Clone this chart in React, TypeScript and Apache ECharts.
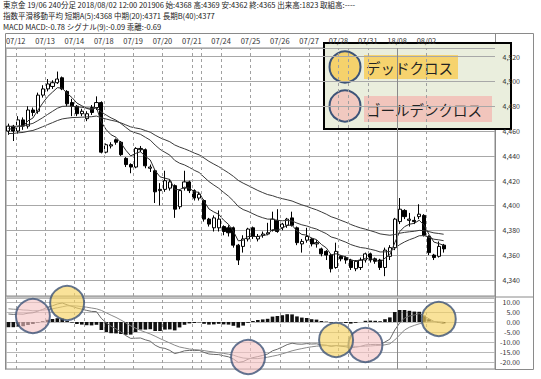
import React, { useEffect, useRef } from 'react';
import * as echarts from 'echarts';

const FONT = '"Noto Sans CJK JP", "Noto Sans", sans-serif';

const headerLines = [
  '東京金 19/06 240分足 2018/08/02 12:00 201906 始:4368 高:4369 安:4362 終:4365 出来高:1823 取組高:----',
  '指数平滑移動平均 短期A(5):4368 中期(20):4371 長期B(40):4377',
  'MACD MACD:-0.78 シグナル(9):-0.09 乖離:-0.69',
];

const SLOT_COUNT = 100;
const dayLabels = ['07/12', '07/13', '07/14', '07/18', '07/19', '07/20', '07/21', '07/24', '07/25', '07/26', '07/27', '07/28', '07/31', '18/08', '08/02'];
const dayStarts = [2, 8, 14, 20, 26, 32, 38, 44, 50, 56, 62, 68, 74, 80, 86];
const extraLines = [16, 40, 70];
const monthStart = 80;

const opens = [
  4460, 4464, 4460, 4469, 4464, 4477, 4476, 4489, 4494, 4496,
  4499, 4503, 4492, 4483, 4480, 4474, 4470, 4479, 4479, 4483,
  4443, 4448, 4453, 4451, 4438, 4433, 4431, 4445, 4445, 4430,
  4428, 4412, 4413, 4414, 4416, 4399, 4414, 4419, 4412, 4406,
  4404, 4389, 4382, 4382, 4383, 4382, 4382, 4368, 4367, 4373,
  4382, 4373, 4376, 4377, 4380, 4388, 4382, 4384, 4390, 4382,
  4369, 4372, 4373, 4369, 4365, 4363, 4360, 4350, 4359, 4358,
  4356, 4349, 4350, 4356, 4361, 4357, 4356, 4350, 4359, 4366,
  4387, 4396, 4388, 4388, 4391, 4392, 4375, 4360, 4359, 4368,
];
const highs = [
  4466, 4465, 4472, 4471, 4480, 4479, 4491, 4497, 4502, 4501,
  4508, 4504, 4493, 4486, 4481, 4478, 4476, 4481, 4488, 4484,
  4450, 4451, 4454, 4452, 4439, 4434, 4447, 4448, 4446, 4433,
  4429, 4418, 4428, 4421, 4417, 4413, 4428, 4420, 4413, 4411,
  4405, 4390, 4392, 4396, 4384, 4384, 4383, 4369, 4376, 4382,
  4383, 4377, 4379, 4386, 4395, 4397, 4386, 4390, 4395, 4383,
  4373, 4382, 4374, 4372, 4366, 4364, 4361, 4370, 4360, 4359,
  4357, 4356, 4358, 4362, 4362, 4358, 4357, 4366, 4368, 4390,
  4406, 4397, 4394, 4391, 4401, 4393, 4376, 4361, 4371, 4369,
];
const lows = [
  4457, 4452, 4458, 4461, 4462, 4472, 4474, 4487, 4492, 4494,
  4498, 4493, 4480, 4472, 4472, 4472, 4468, 4473, 4477, 4442,
  4442, 4446, 4449, 4440, 4431, 4426, 4430, 4443, 4430, 4427,
  4402, 4400, 4411, 4412, 4390, 4397, 4412, 4410, 4404, 4404,
  4387, 4383, 4379, 4379, 4376, 4375, 4366, 4352, 4362, 4371,
  4373, 4371, 4374, 4376, 4379, 4378, 4380, 4382, 4383, 4368,
  4362, 4370, 4367, 4366, 4359, 4356, 4346, 4349, 4355, 4353,
  4348, 4347, 4348, 4354, 4354, 4353, 4348, 4343, 4356, 4364,
  4385, 4389, 4383, 4385, 4389, 4375, 4360, 4356, 4358, 4362,
];
const closes = [
  4464, 4460, 4469, 4464, 4477, 4475, 4489, 4494, 4498, 4499,
  4502, 4494, 4482, 4480, 4474, 4476, 4474, 4475, 4483, 4443,
  4449, 4449, 4451, 4441, 4433, 4431, 4446, 4446, 4432, 4431,
  4411, 4413, 4420, 4419, 4397, 4412, 4419, 4412, 4406, 4409,
  4389, 4385, 4390, 4389, 4379, 4378, 4368, 4356, 4373, 4381,
  4375, 4375, 4377, 4378, 4389, 4379, 4385, 4389, 4384, 4370,
  4371, 4375, 4369, 4370, 4361, 4360, 4349, 4363, 4357, 4356,
  4350, 4355, 4356, 4361, 4356, 4355, 4350, 4364, 4366, 4389,
  4397, 4391, 4389, 4387, 4393, 4376, 4362, 4358, 4367, 4365,
];

const emaShort = [
  4462, 4461.3, 4463.9, 4463.9, 4468.3, 4470.5, 4476.7, 4482.5, 4487.7, 4491.4,
  4495, 4494.6, 4490.4, 4487, 4482.6, 4480.4, 4478.3, 4477.2, 4479.1, 4467.1,
  4461.1, 4457, 4455, 4450.4, 4444.6, 4440, 4442, 4443.4, 4439.6, 4436.7,
  4428.1, 4423.1, 4422, 4421, 4413, 4412.7, 4414.8, 4413.9, 4411.2, 4410.5,
  4403.3, 4397.2, 4394.8, 4392.9, 4388.2, 4384.8, 4379.2, 4371.5, 4372, 4375,
  4375, 4375, 4375.7, 4376.5, 4380.6, 4380.1, 4381.7, 4384.1, 4384.1, 4379.4,
  4376.6, 4376.1, 4373.7, 4372.5, 4368.6, 4365.8, 4360.2, 4361.1, 4359.7, 4358.5,
  4355.7, 4355.5, 4355.7, 4357.4, 4356.9, 4356.3, 4354.2, 4357.5, 4360.3, 4369.9,
  4378.9, 4382.9, 4384.9, 4385.6, 4388.1, 4384.1, 4376.7, 4370.5, 4369.3, 4367.9,
];
const emaMid = [
  4464, 4463.6, 4464.1, 4464.1, 4465.3, 4466.2, 4468.4, 4470.8, 4473.4, 4475.9,
  4478.4, 4479.9, 4480.1, 4480.1, 4479.5, 4479.2, 4478.7, 4478.3, 4478.8, 4475.4,
  4472.9, 4470.6, 4468.8, 4466.1, 4463, 4460, 4458.6, 4457.4, 4455, 4452.7,
  4448.7, 4445.3, 4442.9, 4440.6, 4436.4, 4434.1, 4432.7, 4430.7, 4428.4, 4426.6,
  4422.9, 4419.3, 4416.5, 4413.9, 4410.6, 4407.5, 4403.7, 4399.2, 4396.7, 4395.2,
  4393.3, 4391.5, 4390.1, 4389, 4389, 4388, 4387.7, 4387.9, 4387.5, 4385.8,
  4384.4, 4383.5, 4382.1, 4381, 4379.1, 4377.3, 4374.6, 4373.5, 4371.9, 4370.4,
  4368.5, 4367.2, 4366.1, 4365.6, 4364.7, 4363.8, 4362.5, 4362.6, 4362.9, 4365.4,
  4368.4, 4370.6, 4372.4, 4373.8, 4375.6, 4375.7, 4374.4, 4372.8, 4372.3, 4371.6,
];
const emaLong = [
  4458, 4458.1, 4458.6, 4458.9, 4459.8, 4460.5, 4461.9, 4463.5, 4465.2, 4466.8,
  4468.5, 4469.8, 4470.4, 4470.9, 4471, 4471.2, 4471.4, 4471.6, 4472.1, 4470.7,
  4469.7, 4468.7, 4467.9, 4466.6, 4465, 4463.4, 4462.5, 4461.8, 4460.4, 4459.1,
  4456.7, 4454.6, 4453, 4451.4, 4448.8, 4447.1, 4445.7, 4444.1, 4442.3, 4440.8,
  4438.3, 4435.6, 4433.4, 4431.3, 4428.8, 4426.3, 4423.5, 4420.2, 4418, 4416.1,
  4414.1, 4412.1, 4410.4, 4408.8, 4407.9, 4406.5, 4405.5, 4404.6, 4403.6, 4402,
  4400.5, 4399.3, 4397.8, 4396.5, 4394.8, 4393, 4390.9, 4389.6, 4388, 4386.5,
  4384.7, 4383.2, 4381.9, 4380.9, 4379.7, 4378.5, 4377.1, 4376.5, 4376, 4376.6,
  4377.6, 4378.3, 4378.8, 4379.2, 4379.9, 4379.7, 4378.9, 4377.9, 4377.4, 4376.8,
];

const macd = [
  4.0, 3.8, 4.0, 3.9, 4.4, 4.6, 5.4, 6.3, 7.3, 8.1,
  9.0, 9.5, 8.6, 7.8, 7.0, 6.4, 5.8, 5.3, 5.2, 1.8,
  -0.4, -2.2, -3.4, -5.0, -6.8, -8.2, -8.1, -8.0, -8.9, -9.6,
  -11.6, -12.8, -13.2, -14.2, -15.8, -15.2, -14.4, -14.2, -14.3, -14.2,
  -15.2, -16.0, -16.2, -16.3, -16.9, -17.4, -18.5, -20.2, -19.8, -18.6,
  -17.8, -17.3, -16.7, -16.0, -14.4, -13.6, -12.5, -11.3, -10.6, -11.0,
  -11.1, -10.8, -11.0, -10.9, -11.4, -11.6, -12.2, -11.8, -12.1, -12.4,
  -12.9, -12.6, -12.2, -11.5, -11.3, -11.2, -11.3, -10.0, -8.6, -4.0,
  -0.5, 2.0, 3.0, 3.5, 4.2, 3.0, 1.6, 0.3, -0.2, -0.78,
];
const signal = [
  6.6, 6.4, 6.3, 6.0, 5.9, 5.6, 5.7, 5.9, 6.2, 6.6,
  7.1, 7.6, 8.1, 8.1, 8.0, 7.7, 7.4, 7.0, 6.6, 5.8,
  4.6, 3.4, 2.3, 1.0, -0.4, -1.9, -3.1, -4.2, -5.1, -6.0,
  -7.1, -8.3, -9.4, -10.5, -11.6, -12.5, -13.0, -13.5, -13.8, -14.0,
  -14.3, -14.7, -15.0, -15.4, -15.7, -16.1, -16.6, -17.4, -18.0, -18.2,
  -18.3, -18.3, -18.0, -17.6, -17.1, -16.6, -15.9, -15.2, -14.4, -13.8,
  -13.3, -12.8, -12.4, -12.1, -11.9, -11.8, -11.9, -11.8, -11.9, -11.9,
  -12.1, -12.2, -12.2, -12.1, -12.0, -11.8, -11.7, -11.4, -10.9, -9.0,
  -6.5, -4.0, -2.6, -1.7, -0.9, -0.2, 0.2, 0.2, 0.1, -0.09,
];

const goldenCrosses = [[5, 3.0], [49, -17.5], [73, -11.5]];
const deadCrosses = [[12, 9.5], [67, -9.0], [88, 1.5]];

const legendDead = 'デッドクロス';
const legendGolden = 'ゴールデンクロス';

export default function App() {
  const ref = useRef<HTMLDivElement>(null);
  useEffect(() => {
    if (!ref.current) return;
    const chart = echarts.init(ref.current, null, { renderer: 'svg' });
    const categories = Array.from({ length: SLOT_COUNT }, (_, i) => String(i));
    const labelAt = new Map<number, string>(dayStarts.map((b, k) => [b, dayLabels[k]]));
    const candleData = opens.map((o, i) => [o, closes[i], lows[i], highs[i]]);
    const hist = macd.map((m, i) => +(m - signal[i]).toFixed(2));
    const lastClose = closes[closes.length - 1];
    const allLines = [...dayStarts, ...extraLines];
    const vLineData = allLines.map((b) =>
      b === monthStart
        ? { xAxis: b, lineStyle: { type: 'solid', color: '#8a8a8a', width: 1 } }
        : { xAxis: b }
    );
    const markLineBase = {
      silent: true,
      symbol: ['none', 'none'],
      label: { show: false },
      lineStyle: { color: '#a0a0a0', width: 1, type: [3, 3] },
      data: vLineData,
    };
    const priceLabel = (v: number) => Number(v).toLocaleString('en-US');

    const option: any = {
      animation: false,
      backgroundColor: '#ffffff',
      textStyle: { fontFamily: FONT },
      grid: [
        { left: 6, top: 48, width: 489, height: 248, show: true, borderColor: '#8a8a8a', borderWidth: 1, backgroundColor: 'transparent' },
        { left: 6, top: 298, width: 489, height: 71, show: true, borderColor: '#8a8a8a', borderWidth: 1, backgroundColor: 'transparent' },
      ],
      xAxis: [
        {
          type: 'category', gridIndex: 0, data: categories, position: 'top', boundaryGap: true,
          axisLine: { show: false }, axisTick: { show: false }, splitLine: { show: false },
          axisLabel: {
            interval: (i: number) => labelAt.has(i),
            formatter: (_v: string, i: number) => labelAt.get(i) ?? '',
            fontSize: 7.5, color: '#333', margin: 4, padding: [0, 5, 0, 0], fontFamily: FONT,
          },
        },
        {
          type: 'category', gridIndex: 1, data: categories, boundaryGap: true,
          axisLine: { show: false }, axisTick: { show: false }, axisLabel: { show: false }, splitLine: { show: false },
        },
        { type: 'value', gridIndex: 0, min: 0, max: SLOT_COUNT, show: false },
        { type: 'value', gridIndex: 1, min: 0, max: SLOT_COUNT, show: false },
      ],
      yAxis: [
        {
          type: 'value', gridIndex: 0, position: 'right', min: 4327, max: 4527, splitNumber: 10,
          axisLine: { show: false }, axisTick: { show: false },
          axisLabel: { fontSize: 7, color: '#333', align: 'right', margin: 25, showMinLabel: false, showMaxLabel: false, formatter: priceLabel, fontFamily: FONT },
          splitLine: { lineStyle: { color: '#a8a8a8', width: 1 } },
        },
        {
          type: 'value', gridIndex: 1, position: 'right', min: -23.5, max: 12, splitNumber: 7,
          axisLine: { show: false }, axisTick: { show: false },
          axisLabel: { fontSize: 7, color: '#333', align: 'right', margin: 25, showMinLabel: false, showMaxLabel: false, formatter: (v: number) => v.toFixed(2), fontFamily: FONT },
          splitLine: { lineStyle: { color: '#b8b8b8', width: 1 } },
        },
      ],
      series: [
        { type: 'line', xAxisIndex: 2, yAxisIndex: 0, data: [], silent: true, markLine: markLineBase },
        { type: 'line', xAxisIndex: 3, yAxisIndex: 1, data: [], silent: true, markLine: markLineBase },
        {
          type: 'candlestick', xAxisIndex: 0, yAxisIndex: 0, data: candleData, barWidth: 3.6,
          itemStyle: { color: '#ffffff', color0: '#000000', borderColor: '#000000', borderColor0: '#000000', borderWidth: 1 },
          markLine: {
            silent: true, symbol: ['none', 'none'],
            data: [{ yAxis: lastClose }],
            lineStyle: { opacity: 0 },
            label: {
              show: true, position: 'end', distance: 2,
              formatter: (p: any) => priceLabel(p.value),
              backgroundColor: '#000', color: '#fff', fontSize: 10, padding: [1, 4, 0, 4], fontFamily: FONT,
            },
          },
        },
        { type: 'line', name: '短期A(5)', xAxisIndex: 0, yAxisIndex: 0, data: emaShort, showSymbol: false, symbol: 'none', lineStyle: { color: '#2a2a2a', width: 1 } },
        { type: 'line', name: '中期(20)', xAxisIndex: 0, yAxisIndex: 0, data: emaMid, showSymbol: false, symbol: 'none', lineStyle: { color: '#3a3a3a', width: 1 } },
        { type: 'line', name: '長期B(40)', xAxisIndex: 0, yAxisIndex: 0, data: emaLong, showSymbol: false, symbol: 'none', lineStyle: { color: '#3a3a3a', width: 1 } },
        { type: 'bar', name: '乖離', xAxisIndex: 1, yAxisIndex: 1, data: hist, barWidth: 3.6, itemStyle: { color: '#111' } },
        { type: 'line', name: 'MACD', xAxisIndex: 1, yAxisIndex: 1, data: macd, showSymbol: false, symbol: 'none', lineStyle: { color: '#6a6a6a', width: 1 } },
        { type: 'line', name: 'シグナル', xAxisIndex: 1, yAxisIndex: 1, data: signal, showSymbol: false, symbol: 'none', lineStyle: { color: '#8a8a8a', width: 1 } },
        {
          type: 'scatter', xAxisIndex: 1, yAxisIndex: 1, data: goldenCrosses, symbolSize: 34, clip: false, z: 5,
          itemStyle: { color: 'rgba(246,196,196,0.78)', borderColor: '#3d5478', borderWidth: 2 },
        },
        {
          type: 'scatter', xAxisIndex: 1, yAxisIndex: 1, data: deadCrosses, symbolSize: 34, clip: false, z: 5,
          itemStyle: { color: 'rgba(246,210,100,0.82)', borderColor: '#3d5478', borderWidth: 2 },
        },
      ],
      graphic: [
        ...headerLines.map((t, k) => ({
          type: 'text', x: 3, y: [4.5, 15.8, 26.3][k],
          style: { text: t, fontSize: 7.5, fill: '#222', fontFamily: FONT, verticalAlign: 'middle' },
        })),
        { type: 'rect', shape: { x: 5.5, y: 33.5, width: 528, height: 336 }, style: { fill: 'none', stroke: '#8a8a8a', lineWidth: 1 } },
        { type: 'line', shape: { x1: 495.5, y1: 33, x2: 495.5, y2: 369 }, style: { stroke: '#8a8a8a', lineWidth: 1 } },
        { type: 'line', shape: { x1: 495, y1: 297, x2: 533, y2: 297 }, style: { stroke: '#8a8a8a', lineWidth: 1 } },
        {
          type: 'group', z: 100,
          children: [
            { type: 'rect', shape: { x: 324, y: 43, width: 187, height: 86 }, style: { fill: '#eaeedd', stroke: '#000', lineWidth: 2 } },
            { type: 'circle', shape: { cx: 345, cy: 67, r: 15.5 }, style: { fill: '#f5d26c', stroke: '#3d5478', lineWidth: 2 } },
            { type: 'rect', shape: { x: 364, y: 55, width: 94, height: 24 }, style: { fill: '#f6d36e' } },
            { type: 'text', x: 366, y: 67, style: { text: legendDead, fontSize: 14.5, fill: '#222', fontFamily: FONT, verticalAlign: 'middle' } },
            { type: 'circle', shape: { cx: 345, cy: 106, r: 15.5 }, style: { fill: '#f1c9c0', stroke: '#3d5478', lineWidth: 2 } },
            { type: 'rect', shape: { x: 364, y: 96, width: 128, height: 26 }, style: { fill: '#f1c5bc' } },
            { type: 'text', x: 366, y: 109, style: { text: legendGolden, fontSize: 14.5, fill: '#222', fontFamily: FONT, verticalAlign: 'middle' } },
          ],
        },
      ],
    };
    chart.setOption(option);
    return () => chart.dispose();
  }, []);
  return <div ref={ref} style={{ position: 'fixed', left: 0, top: 0, width: 541, height: 379, background: '#fff' }} />;
}
